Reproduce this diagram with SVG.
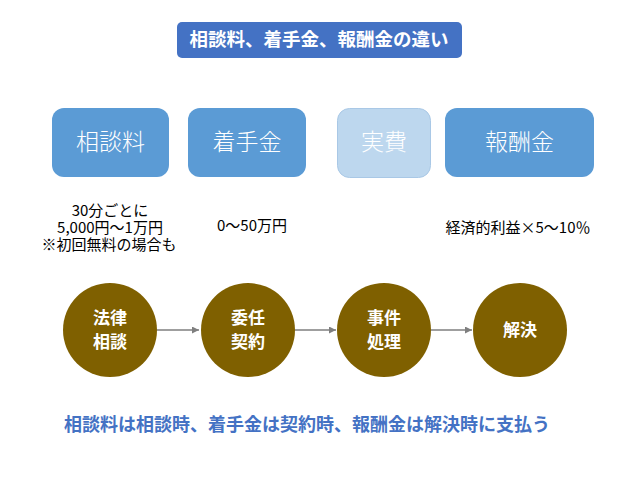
<svg xmlns="http://www.w3.org/2000/svg" width="640" height="480" viewBox="0 0 640 480">
<defs>
<style>
text{font-family:"Noto Sans CJK JP","Noto Sans CJK SC",sans-serif;text-anchor:middle}
.title{fill:#fff;font-size:18.5px;font-weight:bold}
.box{fill:#5B9BD5}
.boxl{fill:#BDD7EE;stroke:#A9C8E6;stroke-width:1}
.bt{fill:#fff;font-size:23px;font-weight:300}
.note{fill:#000;font-size:15px}
.circ{fill:#7F6000}
.ct{fill:#fff;font-size:17px;font-weight:bold}
.conn{stroke:#7F7F7F;stroke-width:1.3;fill:none}
.foot{fill:#4472C4;font-size:18px;font-weight:bold}
</style>
<marker id="arr" viewBox="0 0 10 10" refX="10" refY="5" markerWidth="7" markerHeight="7" markerUnits="userSpaceOnUse" orient="auto">
<path d="M0,0 L10,5 L0,10 z" fill="#7F7F7F"/>
</marker>
</defs>
<rect width="640" height="480" fill="#fff"/>
<g id="title">
<rect x="177" y="22" width="285" height="36" rx="5" fill="#4472C4"/>
<text class="title" x="319" y="46">相談料、着手金、報酬金の違い</text>
</g>
<g id="box-soudan">
<rect class="box" x="52" y="108" width="117" height="69" rx="12"/>
<text class="bt" x="110.5" y="150">相談料</text>
</g>
<g id="box-chakushu">
<rect class="box" x="188" y="108" width="118" height="69" rx="12"/>
<text class="bt" x="247" y="150">着手金</text>
</g>
<g id="box-jippi">
<rect class="boxl" x="337.5" y="108.5" width="93" height="69" rx="12"/>
<text class="bt" x="384" y="150">実費</text>
</g>
<g id="box-houshu">
<rect class="box" x="445" y="108" width="149" height="69" rx="12"/>
<text class="bt" x="519.5" y="150">報酬金</text>
</g>
<g id="notes">
<text class="note" x="110" y="216"><tspan x="110" y="216">30分ごとに</tspan><tspan x="110" y="233">5,000円〜1万円</tspan><tspan x="109" y="250">※初回無料の場合も</tspan></text>
<text class="note" x="252" y="231">0〜50万円</text>
<text class="note" x="518" y="233">経済的利益×5〜10％</text>
</g>
<g id="connectors">
<line class="conn" x1="157" y1="330" x2="199" y2="330" marker-end="url(#arr)"/>
<line class="conn" x1="295" y1="330" x2="336" y2="330" marker-end="url(#arr)"/>
<line class="conn" x1="431" y1="330" x2="472" y2="330" marker-end="url(#arr)"/>
</g>
<g id="step-soudan">
<circle class="circ" cx="110" cy="330" r="47"/>
<text class="ct" x="110" y="324">法律</text>
<text class="ct" x="110" y="348">相談</text>
</g>
<g id="step-inin">
<circle class="circ" cx="248" cy="330" r="47"/>
<text class="ct" x="248" y="324">委任</text>
<text class="ct" x="248" y="348">契約</text>
</g>
<g id="step-jiken">
<circle class="circ" cx="384" cy="330" r="47"/>
<text class="ct" x="384" y="324">事件</text>
<text class="ct" x="384" y="348">処理</text>
</g>
<g id="step-kaiketsu">
<circle class="circ" cx="520" cy="330" r="47"/>
<text class="ct" x="520" y="336">解決</text>
</g>
<g id="footer">
<text class="foot" x="307" y="431">相談料は相談時、着手金は契約時、報酬金は解決時に支払う</text>
</g>
</svg>
